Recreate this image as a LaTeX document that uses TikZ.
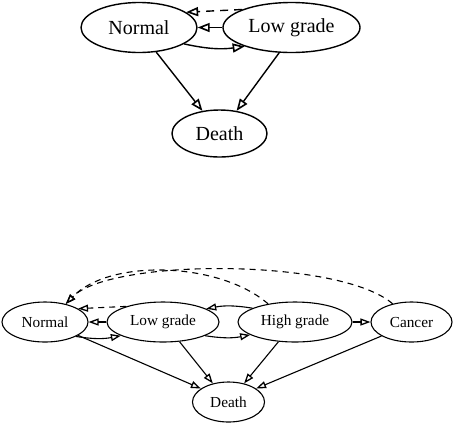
\documentclass[tikz,border=0pt]{standalone}
\usepackage{fontspec}
\setmainfont{Liberation Serif}
\usetikzlibrary{shapes.geometric,arrows.meta}
\begin{document}
\begin{tikzpicture}[x=1pt,y=-1pt,
  st/.style={ellipse,draw,line width=1.4pt,inner sep=0pt,font=\fontsize{20pt}{22pt}\selectfont},
  sb/.style={ellipse,draw,line width=1.1pt,inner sep=0pt,font=\fontsize{15.3pt}{17pt}\selectfont},
  et/.style={line width=1.4pt,-{Triangle[open,length=12pt,width=9pt,line width=1.6pt]}},
  eb/.style={line width=1.1pt,-{Triangle[open,length=10pt,width=7pt,line width=1.3pt]}},
  dt/.style={dash pattern=on 8pt off 6pt},
  db/.style={dash pattern=on 6pt off 5pt}]
\useasboundingbox (0,0) rectangle (454,424);
% top graph
\node[st,minimum width=116pt,minimum height=50pt] (N1) at (139,27.5) {Normal};
\node[st,minimum width=137pt,minimum height=50pt] (L1) at (291.5,27.5) {Low grade};
\node[st,minimum width=95pt,minimum height=47pt] (D1) at (219.5,133.5) {Death};
\draw[et] (N1.-20) to[bend right=10] (L1.-158);
\draw[et] (L1) -- (N1);
\draw[et,dt] (L1.160) -- (N1.18);
\draw[et] (N1.-55) -- (D1.127);
\draw[et] (L1.244) -- (D1.53);
% bottom graph
\node[sb,minimum width=86pt,minimum height=40pt] (N2) at (45,322) {Normal};
\node[sb,minimum width=112pt,minimum height=40pt] (L2) at (163,322) {Low grade};
\node[sb,minimum width=114pt,minimum height=40pt] (H2) at (295,322) {High grade};
\node[sb,minimum width=81pt,minimum height=40pt] (C2) at (411.5,322) {Cancer};
\node[sb,minimum width=72pt,minimum height=40pt] (D2) at (228.5,402) {Death};
\draw[eb] (N2.-25) to[bend right=10] (L2.-162);
\draw[eb] (L2) -- (N2);
\draw[eb,db] (L2.157) -- (N2.22);
\draw[eb] (H2.162) to[bend right=10] (L2.17);
\draw[eb] (L2.-18) to[bend right=10] (H2.-164);
\draw[eb] (H2) -- (C2);
\draw[eb,db] (H2.146) .. controls (220,262) and (110,258) .. (N2.41);
\draw[eb,db] (C2.136) .. controls (340,258) and (110,258) .. (N2.41);
\draw[eb] (N2.-22) -- (D2.154);
\draw[eb] (L2.-50) -- (D2.130);
\draw[eb] (H2.230) -- (D2.50);
\draw[eb] (C2.205) -- (D2.26);
\end{tikzpicture}
\end{document}
